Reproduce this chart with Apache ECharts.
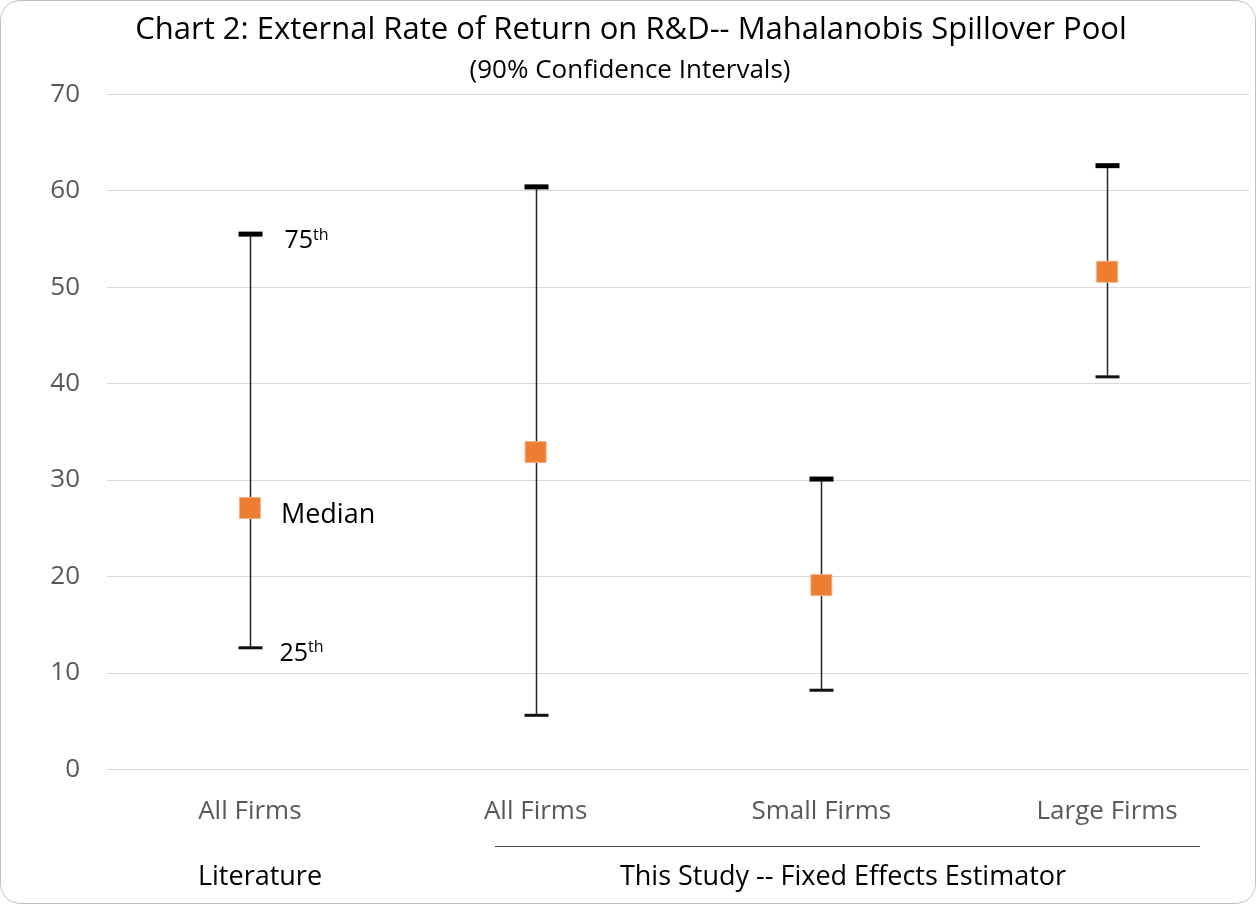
<!DOCTYPE html>
<html>
<head>
<meta charset="utf-8">
<script src="https://cdn.jsdelivr.net/npm/echarts@6/dist/echarts.min.js"></script>
<style>
  html, body { margin: 0; padding: 0; background: #fff; }
  #chart { width: 1256px; height: 904px; }
</style>
</head>
<body>
<div id="chart"></div>
<script>
// 数据
var categories = ['All Firms', 'All Firms', 'Small Firms', 'Large Firms']
var lowValues = [12.6, 5.6, 8.2, 40.7]
var highValues = [55.5, 60.4, 30.1, 62.6]
var medianValues = [27.1, 32.9, 19.1, 51.6]
var yTicks = [0, 10, 20, 30, 40, 50, 60, 70]

var FONT = '"Open Sans", "Noto Sans", sans-serif'

var chart = echarts.init(document.getElementById('chart'), null, { renderer: 'canvas' })

var errorData = categories.map(function (c, i) {
  return [i, lowValues[i], highValues[i]]
})

// 第一个点带 "Median" 标签
var medianData = medianValues.map(function (v, i) {
  if (i === 0) {
    return {
      value: [i, v],
      label: {
        show: true,
        position: 'right',
        distance: 20,
        offset: [0, 7],
        formatter: 'Median',
        color: '#000',
        fontSize: 27,
        fontFamily: FONT
      }
    }
  }
  return [i, v]
})

var supRich = {
  a: { fontSize: 25, fontFamily: FONT, color: '#000' },
  b: { fontSize: 16, fontFamily: FONT, color: '#000', verticalAlign: 'top', padding: [0, 0, 12, 0] }
}

chart.setOption({
  backgroundColor: '#fff',
  animation: false,
  grid: { left: 107, right: 6, top: 94.3, bottom: 904 - 769.3 },
  xAxis: {
    type: 'category',
    data: categories,
    boundaryGap: true,
    axisLine: { show: false },
    axisTick: { show: false },
    axisLabel: { color: '#595959', fontSize: 26, fontFamily: FONT, margin: 29 }
  },
  yAxis: {
    type: 'value',
    min: yTicks[0],
    max: yTicks[yTicks.length - 1],
    interval: 10,
    axisLine: { show: false },
    axisTick: { show: false },
    splitLine: { lineStyle: { color: '#d9d9d9', width: 1 } },
    axisLabel: { color: '#595959', fontSize: 26, fontFamily: FONT, margin: 27 }
  },
  graphic: [
    {
      type: 'rect',
      shape: { x: 0.5, y: 0.5, width: 1255, height: 903, r: 20 },
      style: { fill: 'none', stroke: '#bfbfbf', lineWidth: 1 },
      silent: true
    },
    {
      type: 'text',
      x: 631, y: 30,
      style: { text: 'Chart 2: External Rate of Return on R&D-- Mahalanobis Spillover Pool', fill: '#000', fontSize: 31, fontFamily: FONT, align: 'center', verticalAlign: 'middle' }
    },
    {
      type: 'text',
      x: 630, y: 71,
      style: { text: '(90% Confidence Intervals)', fill: '#000', fontSize: 26, fontFamily: FONT, align: 'center', verticalAlign: 'middle' }
    },
    {
      type: 'line',
      shape: { x1: 495, y1: 846.5, x2: 1200, y2: 846.5 },
      style: { stroke: '#404040', lineWidth: 1.2 }
    },
    {
      type: 'text',
      x: 260, y: 877,
      style: { text: 'Literature', fill: '#000', fontSize: 27, fontFamily: FONT, align: 'center', verticalAlign: 'middle' }
    },
    {
      type: 'text',
      x: 843, y: 877,
      style: { text: 'This Study -- Fixed Effects Estimator', fill: '#000', fontSize: 27, fontFamily: FONT, align: 'center', verticalAlign: 'middle' }
    }
  ],
  series: [
    {
      type: 'custom',
      data: errorData,
      z: 2,
      renderItem: function (params, api) {
        var top = api.coord([api.value(0), api.value(2)])
        var bot = api.coord([api.value(0), api.value(1)])
        var x = Math.round(top[0]) + 0.5
        var hw = 12
        var children = [
          {
            type: 'line',
            shape: { x1: x, y1: top[1], x2: x, y2: bot[1] },
            style: { stroke: '#262626', lineWidth: 1.5 }
          },
          {
            type: 'rect',
            shape: { x: x - hw, y: top[1] - 2.5, width: hw * 2, height: 5 },
            style: { fill: '#000' }
          },
          {
            type: 'rect',
            shape: { x: x - hw, y: bot[1] - 1.5, width: hw * 2, height: 3 },
            style: { fill: '#111' }
          }
        ]
        // 文献组的分位数标注
        if (params.dataIndex === 0) {
          children.push({
            type: 'text',
            x: x + 34, y: top[1] + 7,
            style: { text: '{a|75}{b|th}', verticalAlign: 'middle', rich: supRich }
          })
          children.push({
            type: 'text',
            x: x + 29, y: bot[1] + 6,
            style: { text: '{a|25}{b|th}', verticalAlign: 'middle', rich: supRich }
          })
        }
        return { type: 'group', children: children }
      }
    },
    {
      type: 'scatter',
      data: medianData,
      z: 3,
      symbol: 'rect',
      symbolSize: 21,
      itemStyle: { color: '#ED7D31', borderColor: '#F4B183', borderWidth: 1, opacity: 1 }
    }
  ]
})
</script>
</body>
</html>
